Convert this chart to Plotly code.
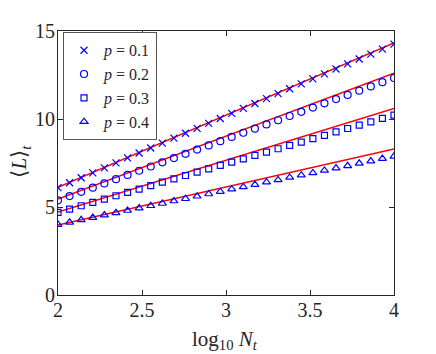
import plotly.graph_objects as go

# log10 N_t sample positions (30 points between 2 and 4)
log_n = [2.000, 2.069, 2.138, 2.207, 2.276, 2.345, 2.414, 2.483, 2.552, 2.621,
         2.690, 2.759, 2.828, 2.897, 2.966, 3.034, 3.103, 3.172, 3.241, 3.310,
         3.379, 3.448, 3.517, 3.586, 3.655, 3.724, 3.793, 3.862, 3.931, 4.000]

L_p1 = [6.10, 6.38, 6.66, 6.94, 7.22, 7.51, 7.79, 8.07, 8.35, 8.63,
        8.91, 9.19, 9.47, 9.75, 10.03, 10.32, 10.60, 10.88, 11.16, 11.44,
        11.72, 12.00, 12.28, 12.56, 12.84, 13.13, 13.41, 13.69, 13.97, 14.25]
L_p2 = [5.38, 5.62, 5.86, 6.10, 6.34, 6.58, 6.82, 7.06, 7.30, 7.54,
        7.78, 8.02, 8.26, 8.50, 8.74, 8.98, 9.22, 9.45, 9.69, 9.93,
        10.17, 10.41, 10.65, 10.89, 11.13, 11.37, 11.61, 11.85, 12.09, 12.33]
L_p3 = [4.69, 4.88, 5.07, 5.26, 5.45, 5.64, 5.83, 6.02, 6.22, 6.41,
        6.60, 6.79, 6.98, 7.17, 7.36, 7.55, 7.74, 7.93, 8.12, 8.31,
        8.50, 8.69, 8.88, 9.07, 9.27, 9.46, 9.65, 9.84, 10.03, 10.22]
L_p4 = [4.00, 4.13, 4.27, 4.40, 4.54, 4.67, 4.80, 4.94, 5.07, 5.20,
        5.34, 5.47, 5.61, 5.74, 5.87, 6.01, 6.14, 6.27, 6.41, 6.54,
        6.68, 6.81, 6.94, 7.08, 7.21, 7.34, 7.48, 7.61, 7.75, 7.88]

# red reference lines, endpoints at log10 N_t = 2 and 4
line_x = [2, 4]
line_p1 = [6.12, 14.32]
line_p2 = [5.45, 12.60]
line_p3 = [4.72, 10.60]
line_p4 = [3.98, 8.30]

labels = ["0.1", "0.2", "0.3", "0.4"]
symbols = ["x-thin-open", "circle-open", "square-open", "triangle-up-open"]
sizes = [7, 7, 6, 7]

serif = "Liberation Serif, Times New Roman, serif"
ink = "#262626"

fig = go.Figure()

for ly in [line_p1, line_p2, line_p3, line_p4]:
    fig.add_trace(go.Scatter(x=line_x, y=ly, mode="lines",
                             line=dict(color="#ff0000", width=1.5),
                             showlegend=False, hoverinfo="skip"))

for ys, lab, sym, sz in zip([L_p1, L_p2, L_p3, L_p4], labels, symbols, sizes):
    fig.add_trace(go.Scatter(x=log_n, y=ys, mode="markers",
                             name="<i>p</i> = " + lab,
                             marker=dict(symbol=sym, size=sz, color="#0000ff",
                                         line=dict(color="#0000ff", width=1.2))))

axis_style = dict(showline=True, linecolor=ink, linewidth=1,
                  mirror="ticks", ticks="inside", ticklen=5, tickcolor=ink,
                  showgrid=False, zeroline=False,
                  tickfont=dict(family=serif, size=20, color=ink))

fig.update_layout(
    width=428, height=346,
    margin=dict(l=50, r=42, t=19, b=59),
    plot_bgcolor="white", paper_bgcolor="white",
    font=dict(family=serif, size=20, color=ink),
    xaxis=dict(range=[2, 4], tickvals=[2, 2.5, 3, 3.5, 4],
               ticklabelstandoff=-3, **axis_style),
    yaxis=dict(range=[0, 15], tickvals=[0, 5, 10, 15],
               ticklabelstandoff=-2, **axis_style),
    legend=dict(x=0.015, y=0.995, xanchor="left", yanchor="top",
                bgcolor="white", bordercolor="#555555", borderwidth=1,
                itemwidth=30, tracegroupgap=0,
                font=dict(family=serif, size=16, color=ink)),
    annotations=[
        dict(text="log<sub>10</sub> <i>N</i><sub><i>t</i></sub>",
             xref="paper", yref="paper", x=0.497, y=-0.17,
             xanchor="center", yanchor="middle", showarrow=False,
             font=dict(family=serif, size=21, color=ink)),
        dict(text="⟨<i>L</i>⟩<sub><i>t</i></sub>",
             xref="paper", yref="paper", x=-0.112, y=0.507, textangle=-90,
             xanchor="center", yanchor="middle", showarrow=False,
             font=dict(family=serif, size=21, color=ink)),
    ],
)

fig.write_html("out.html")
